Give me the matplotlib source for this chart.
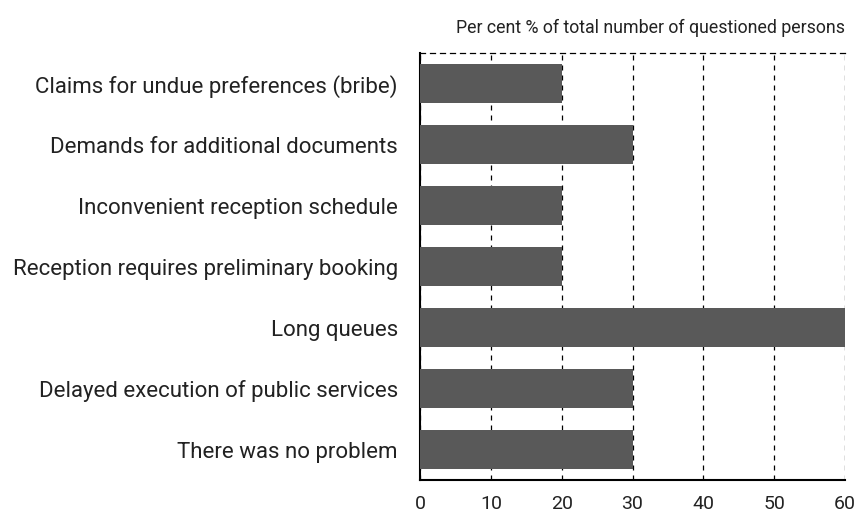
import matplotlib.pyplot as plt

plt.rcParams['font.family'] = ['Roboto', 'DejaVu Sans']

categories = [
    "Claims for undue preferences (bribe)",
    "Demands for additional documents",
    "Inconvenient reception schedule",
    "Reception requires preliminary booking",
    "Long queues",
    "Delayed execution of public services",
    "There was no problem",
]
values = [20, 30, 20, 20, 60, 30, 30]
xticks = [0, 10, 20, 30, 40, 50, 60]

fig = plt.figure(figsize=(8.59, 5.15), dpi=100)
ax = fig.add_axes([420 / 859, 35 / 515, 425 / 859, 427 / 515])

ypos = list(range(len(categories)))
ax.barh(ypos, values, height=0.63, color="#595959", zorder=3)
ax.set_ylim(len(categories) - 0.5, -0.5)
ax.set_xlim(0, 60)
ax.set_yticks(ypos)
ax.set_yticklabels(categories, fontsize=16, color="#222222")
ax.set_xticks(xticks)
ax.set_xticklabels([str(t) for t in xticks], fontsize=14, color="#222222")
ax.tick_params(axis="x", length=0, pad=11)
ax.tick_params(axis="y", length=0, pad=16)

ax.grid(axis="x", linestyle=(0, (4, 4)), color="black", linewidth=0.9, zorder=1)
ax.spines["left"].set_linewidth(1.5)
ax.spines["bottom"].set_linewidth(1.5)
ax.spines["top"].set_linestyle((0, (4, 4)))
ax.spines["top"].set_linewidth(0.9)
ax.spines["right"].set_visible(False)

fig.text(845 / 859, 1 - 28 / 515, "Per cent % of total number of questioned persons",
         ha="right", va="center", fontsize=12.8, color="#222222")

plt.savefig("out.png", dpi=100)
